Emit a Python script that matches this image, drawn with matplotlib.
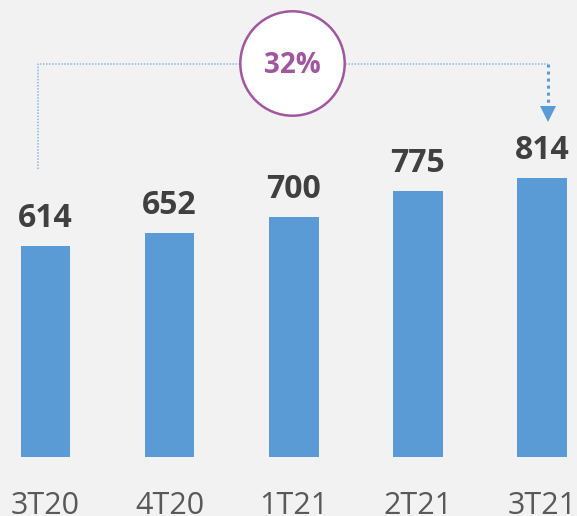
import numpy as np
import matplotlib.pyplot as plt

# chart data
quarters = ['3T20', '4T20', '1T21', '2T21', '3T21']
values = [614, 652, 700, 775, 814]
growth_label = '32%'

BG = '#F2F2F2'
BAR = '#5B9BD5'
PURPLE = '#A0579E'

plt.rcParams['font.family'] = ['Open Sans', 'DejaVu Sans']

fig = plt.figure(figsize=(5.77, 5.16), dpi=100, facecolor=BG)
ax = fig.add_axes([0, 0, 1, 1])
ax.set_facecolor(BG)

x = np.arange(len(quarters))
ax.bar(x, values, width=0.40, color=BAR, zorder=2)

ax.set_xlim(-0.367, 4.283)
ax.set_ylim(-173, 1332)
ax.axis('off')

# value labels above bars
for xi, v in zip(x, values):
    ax.annotate(f'{v}', (xi, v), xytext=(0, 13.5), textcoords='offset points',
                ha='center', va='baseline', fontsize=23, fontweight='bold',
                color='#404040')

# quarter labels (partly cut by the bottom edge, as in the original)
for xi, q in zip(x, quarters):
    ax.text(xi, -167, q, ha='center', va='baseline', fontsize=22,
            color='#595959')

# growth bracket from first to last bar
bracket_y = 1145
x_left = x[0] - 0.063
x_right = x[-1] + 0.047
ax.plot([x_left, x_left, x_right], [values[0] + 225, bracket_y, bracket_y],
        ls=(0, (1, 1)), lw=1.1, color='#8DB6E2', zorder=3)
ax.plot([x_right, x_right], [bracket_y, 1030], ls=(0, (1, 1.3)), lw=2.2,
        color=BAR, zorder=3)
ax.plot([x_right], [1000], marker='v', markersize=11, color=BAR,
        markeredgewidth=0, zorder=3)

# circle with growth figure
x_mid = (x[0] + x[-1]) / 2
ax.scatter([x_mid - 0.01], [bracket_y + 3], s=5650, facecolor='white',
           edgecolor=PURPLE, linewidth=1.8, zorder=4)
ax.text(x_mid - 0.01, bracket_y - 4, growth_label, ha='center', va='center',
        fontsize=20, fontweight='bold', color=PURPLE, zorder=5)

fig.savefig('out.png', dpi=100, facecolor=BG)
